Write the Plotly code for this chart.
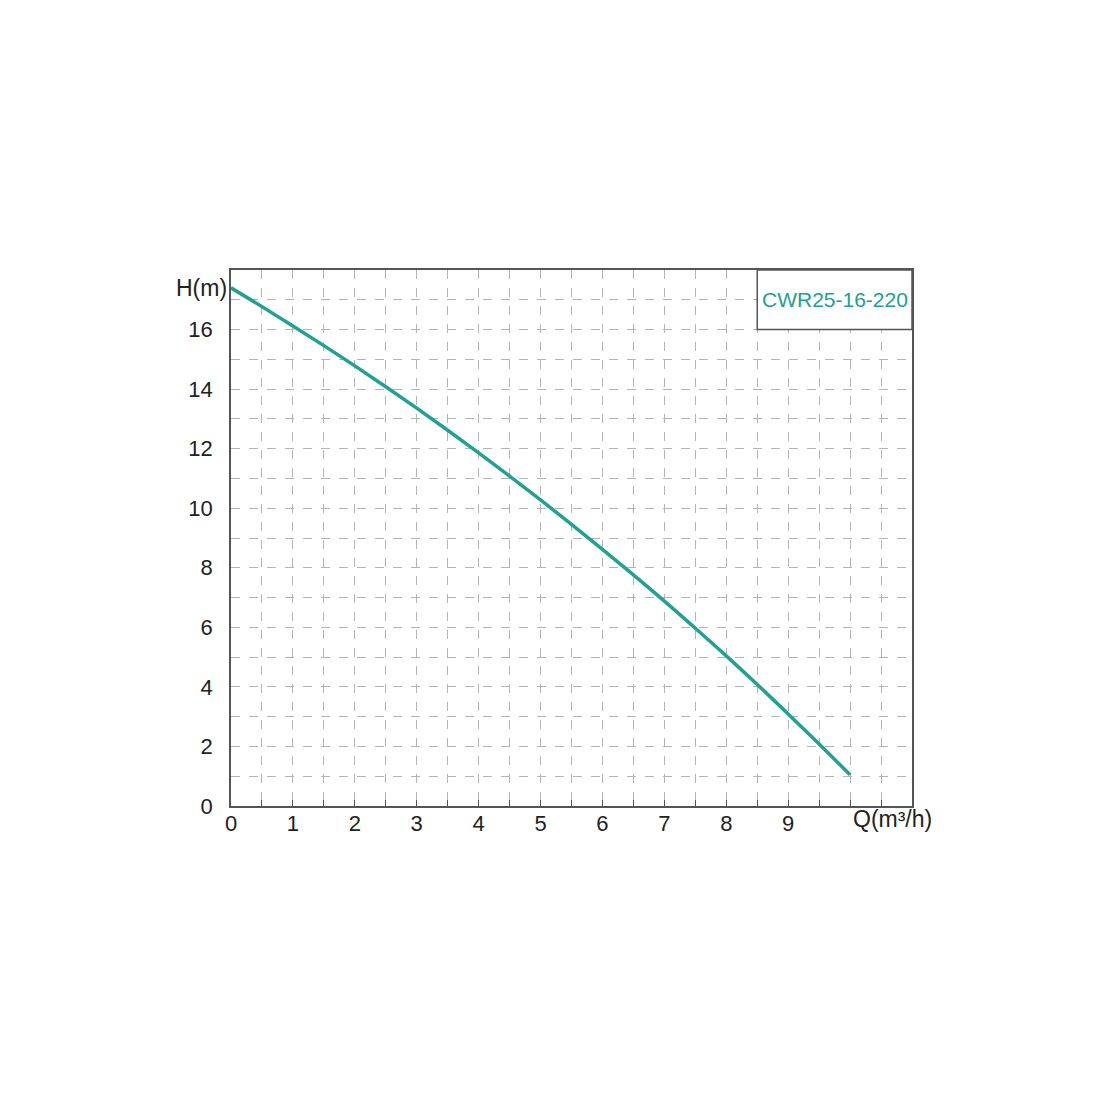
import plotly.graph_objects as go

# pump curve
flow = [0, 0.5, 1, 1.5, 2, 2.5, 3, 3.5, 4, 4.5, 5, 5.5, 6, 6.5, 7, 7.5, 8, 8.5, 9, 9.5, 10]
head = [17.4, 16.77, 16.12, 15.46, 14.78, 14.08, 13.36, 12.62, 11.86, 11.08, 10.28,
        9.46, 8.62, 7.76, 6.88, 5.97, 5.04, 4.08, 3.09, 2.08, 1.05]

x_grid = [i * 0.5 for i in range(23)]
x_labels = [str(int(v)) if v == int(v) and v <= 9 else "" for v in x_grid]
y_grid = list(range(19))
y_labels = [str(v) if v % 2 == 0 and v <= 16 else "" for v in y_grid]

model = "CWR25-16-220"
teal = "#22a092"

fig = go.Figure()
fig.add_trace(go.Scatter(
    x=flow, y=head, mode="lines", line=dict(color=teal, width=3.5, shape="spline"),
    showlegend=False, hoverinfo="skip"))

axis_font = dict(family="Liberation Sans, Arial", size=22, color="#222")
label_font = dict(family="Liberation Sans, Arial", size=23, color="#222")
fig.update_xaxes(
    range=[0, 11], tickvals=x_grid, ticktext=x_labels, tickfont=axis_font,
    showgrid=True, gridcolor="#b4b4b4", griddash="dash", gridwidth=1,
    ticks="inside", ticklen=6, tickcolor="#555", ticklabelstandoff=-3,
    showline=True, linecolor="#555", linewidth=1.5, mirror=True, zeroline=False)
fig.update_yaxes(
    range=[0, 18], tickvals=y_grid, ticktext=y_labels, tickfont=axis_font,
    showgrid=True, gridcolor="#b4b4b4", griddash="dash", gridwidth=1,
    ticks="", ticklabelstandoff=12,
    showline=True, linecolor="#555", linewidth=1.5, mirror=True, zeroline=False)

# model label box in the top right corner
fig.add_shape(type="rect", x0=8.5, x1=11, y0=16, y1=18, xref="x", yref="y",
              line=dict(color="#555", width=1.5), fillcolor="white", layer="above")
fig.add_annotation(x=9.75, y=17, xref="x", yref="y", text=model, showarrow=False,
                   font=dict(family="Liberation Sans, Arial", size=21, color=teal))

fig.add_annotation(x=0, y=17.4, xref="x", yref="y", text="H(m)", showarrow=False,
                   xanchor="right", xshift=-2, font=label_font)
fig.add_annotation(x=11, y=0, xref="x", yref="y", text="Q(m³/h)", showarrow=False,
                   xanchor="right", yanchor="top", xshift=22, yshift=2, font=label_font)

fig.update_layout(
    width=1100, height=1100, plot_bgcolor="white", paper_bgcolor="white",
    margin=dict(l=223, r=196, t=262, b=302))

fig.write_html("out.html")
